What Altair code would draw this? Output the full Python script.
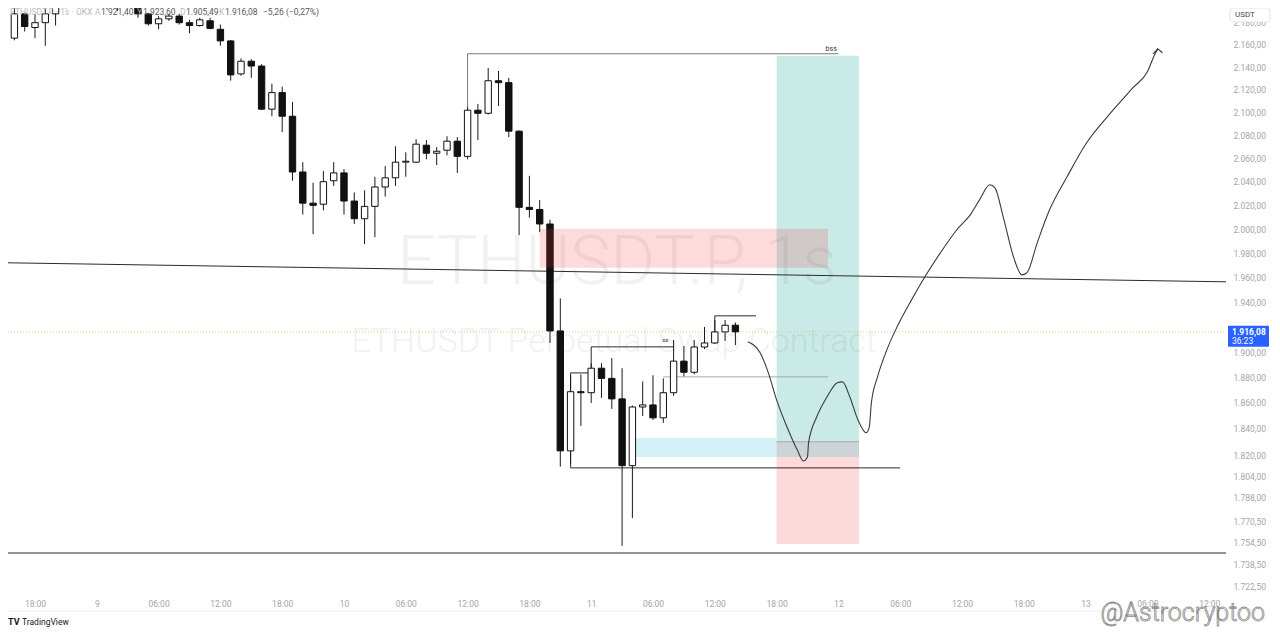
import altair as alt
import pandas as pd

# ---------------- data ----------------
# hourly candles; hour counted from day 8, 00:00
hour = list(range(15, 87))
open_ = [2142, 2166, 2188, 2175.6, 2180, 2188, 2195, 2202, 2208, 2204, 2210, 2200, 2205, 2203,
         2188, 2179, 2183.5, 2186, 2180, 2177.4, 2181.7, 2174, 2163.5, 2133.9, 2145.2, 2140.9,
         2102.7, 2117.3, 2096.5, 2048.3, 2021.8, 2020.9, 2040.8, 2047.5, 2023.6, 2008.7, 2019.1,
         2035.5, 2043.3, 2056.7, 2056.7, 2071.3, 2064.4, 2067, 2074.8, 2061.7, 2101.8, 2099.1,
         2127.8, 2126.1, 2083.5, 2018.3, 2016.5, 2004.3, 1916.8, 1823.2, 1868.8, 1868, 1887.2,
         1879.2, 1863.2, 1812, 1856.9, 1858.5, 1848.5, 1868, 1892.8, 1884, 1904, 1907.2, 1916,
         1921.40]
high = [2171, 2195, 2189, 2188, 2193, 2200, 2207, 2212, 2215, 2213, 2218, 2209, 2212, 2207,
        2189, 2186, 2188, 2188, 2182.6, 2184.4, 2184.4, 2178.3, 2164.3, 2147.8, 2147, 2142.6,
        2125.2, 2122.6, 2109.1, 2056.7, 2039.1, 2049.2, 2056.7, 2050.8, 2030.9, 2032.7, 2044.2,
        2053.3, 2070.4, 2065.2, 2076.5, 2075.7, 2069.6, 2079.1, 2078.3, 2104.5, 2107.3, 2139.1,
        2136.5, 2130.4, 2084, 2045, 2024.5, 2007.8, 1943, 1881.6, 1882.4, 1891.2, 1891.2,
        1895.2, 1887.2, 1858, 1876.8, 1881.6, 1879.2, 1909.6, 1904.8, 1909.6, 1920, 1925.6,
        1925.6, 1923.60]
low = [2137, 2164, 2172, 2166, 2159, 2177.4, 2193, 2196, 2199, 2197, 2192, 2190.5, 2194, 2184.5,
       2177.4, 2174, 2181.7, 2178.3, 2170.4, 2176.5, 2174, 2159.1, 2127.9, 2132.2, 2130.4, 2102,
       2096.5, 2082.6, 2040.8, 2012.2, 1995.8, 2015.7, 2036.4, 2012.2, 2004.3, 1987.5, 1993.3,
       2027.3, 2036.4, 2044.2, 2055.8, 2059.2, 2054.2, 2062.6, 2047.5, 2059.2, 2075.7, 2098,
       2105.5, 2078.3, 1995, 2009.6, 1997.5, 1907.2, 1811.3, 1813.5, 1842.3, 1860, 1864,
       1855.4, 1752.3, 1772.8, 1850, 1846.9, 1844.6, 1865.6, 1880.8, 1882.4, 1902.4, 1906.4,
       1908.8, 1905.49]
close = [2167, 2188, 2176.5, 2180, 2188, 2195, 2202.5, 2208, 2204, 2210, 2200, 2205, 2206, 2188,
         2179, 2183.5, 2186, 2180, 2177.4, 2182.6, 2174.8, 2163.5, 2133, 2145.2, 2140.9, 2102.7,
         2117.3, 2096.5, 2048.3, 2021.8, 2020, 2040, 2047.5, 2023.6, 2008.7, 2019.1, 2035.5,
         2043.3, 2056.7, 2057.5, 2072.2, 2064.4, 2066.1, 2074.8, 2061.7, 2101.8, 2099.1, 2127.8,
         2126.1, 2083.5, 2018.3, 2016.5, 2004.3, 1916.8, 1823.2, 1868.8, 1868, 1887.2, 1879.2,
         1863.2, 1812, 1856.9, 1858.5, 1848.5, 1868, 1892.8, 1884, 1904, 1907.2, 1916, 1921.34,
         1916.08]

# hand-drawn projection path
path_h = [87.2, 88.4, 89.2, 90.0, 91.0, 92.0, 92.6, 93.0, 93.1, 93.9, 94.9, 95.9, 96.4, 97.1,
          97.9, 98.7, 99.0, 99.2, 99.8, 100.7, 101.7, 103.1, 104.4, 105.9, 107.5, 108.8, 109.7,
          110.7, 111.2, 112.0, 113.0, 113.8, 114.3, 115.3, 116.5, 118.2, 120.1, 122.1, 124.6,
          126.0, 126.7, 127.0]
path_p = [1908.1, 1899.4, 1883.5, 1862.4, 1841.6, 1824.0, 1815.6, 1818.6, 1829.3, 1849.3,
          1864.8, 1875.7, 1876.5, 1864.8, 1846.9, 1837.0, 1841.6, 1860.1, 1880.4, 1901.7,
          1920.1, 1941.8, 1960.6, 1980.3, 1999.5, 2012.0, 2024.6, 2037.4, 2034.8, 2010.3,
          1977.0, 1962.2, 1963.9, 1988.6, 2016.2, 2044.2, 2073.4, 2096.0, 2121.6, 2135.8,
          2151.0, 2156.4]

# drawn line segments (hour1, hour2, price1, price2)
dark_h1 = [15.38, 15.38, 72, 72, 70, 70, 70, 84, 84]
dark_h2 = [133.63, 133.63, 80, 72, 72, 70, 102, 88, 84]
dark_p1 = [1972.1, 1747.1, 1904.1, 1887.5, 1883.5, 1810.3, 1810.3, 1928.9, 1916.0]
dark_p2 = [1956.5, 1747.1, 1904.1, 1904.1, 1883.5, 1883.5, 1810.3, 1928.9, 1928.9]
arrow_h = [126.55, 127.0, 127.45]
arrow_p = [2151.9, 2156.4, 2152.8]
bss_h1 = [60, 60]
bss_h2 = [96, 60]
bss_p1 = [2151.9, 2101.3]
bss_p2 = [2151.9, 2151.9]
light_h1 = [79, 90]
light_h2 = [95, 98]
light_p = [1880.4, 1830.1]

# zones
zone_name = ["target", "stop", "fvg", "overlap"]
zone_h1 = [90, 90, 76.3, 90]
zone_h2 = [98, 98, 90, 98]
zone_lo = [1818.6, 1753.7, 1818.6, 1818.6]
zone_hi = [2150.1, 1818.6, 1833.1, 1830.1]
supply_h = [67, 95]
supply_p = [1968.0, 2000.3]

last_price = [1916.08]

price_ticks = [1722.5, 1738.5, 1754.5, 1770.5, 1788, 1804, 1820, 1840, 1860, 1880, 1900,
               1940, 1960, 1980, 2000, 2020, 2040, 2060, 2080, 2100, 2120, 2140, 2160, 2180]
time_ticks = list(range(18, 133, 6))

# ---------------- chart ----------------
W, H = 1218, 584
FONT = "Roboto"
x_scale = alt.Scale(domain=[15.38, 133.63], nice=False, zero=False)
y_scale = alt.Scale(type="log", domain=[1718.9, 2193.4], nice=False)
x_axis = alt.Axis(values=time_ticks, grid=False, domain=False, ticks=False, title=None,
                  labelExpr="datum.value % 24 == 0 ? '' + (8 + datum.value / 24) : "
                            "(datum.value % 24 == 6 ? '06:00' : (datum.value % 24) + ':00')",
                  labelColor="#a3a6ad", labelFontSize=8.5, labelFont=FONT, labelPadding=7,
                  labelFlush=False, labelOverlap=False)
y_axis = alt.Axis(orient="right", values=price_ticks, grid=False, domain=False, ticks=False,
                  title=None,
                  labelExpr="replace(replace(replace(format(datum.value, ',.2f'), ',', '#'), '.', ','), '#', '.')",
                  labelColor="#a3a6ad", labelFontSize=8.5, labelFont=FONT, labelPadding=7,
                  labelFlush=False, labelOverlap=False)


def X(f):
    return alt.X(f, type="quantitative", scale=x_scale, axis=x_axis)


def Y(f):
    return alt.Y(f, type="quantitative", scale=y_scale, axis=y_axis)


dummy = pd.DataFrame({"d": [0]})


def txt(text, x, y, size, color, align="left", baseline="middle", weight="normal", **kw):
    return alt.Chart(dummy).mark_text(text=text, align=align, baseline=baseline, fontSize=size,
                                      color=color, font=FONT, fontWeight=weight, **kw).encode(
        x=alt.value(x), y=alt.value(y))


candles = pd.DataFrame({"h": hour, "o": open_, "hi": high, "lo": low, "c": close})
path = pd.DataFrame({"h": path_h, "p": path_p, "i": list(range(len(path_h)))})
arrow = pd.DataFrame({"h": arrow_h, "p": arrow_p, "i": [0, 1, 2]})
dark = pd.DataFrame({"h1": dark_h1, "h2": dark_h2, "p1": dark_p1, "p2": dark_p2})
bss = pd.DataFrame({"h1": bss_h1, "h2": bss_h2, "p1": bss_p1, "p2": bss_p2})
light = pd.DataFrame({"h1": light_h1, "h2": light_h2, "p": light_p})
zones = pd.DataFrame({"name": zone_name, "h1": zone_h1, "h2": zone_h2, "lo": zone_lo, "hi": zone_hi})
supply = pd.DataFrame({"h1": [supply_h[0]], "h2": [supply_h[1]], "lo": [supply_p[0]], "hi": [supply_p[1]]})
lastdf = pd.DataFrame({"p": last_price, "h": [hour[-1]]})

layers = []

# zones
layers.append(alt.Chart(zones).mark_rect(clip=True).encode(
    x=X("h1"), x2="h2", y=Y("lo"), y2="hi",
    fill=alt.Fill("name:N", legend=None,
                  scale=alt.Scale(domain=["target", "stop", "fvg", "overlap"],
                                  range=["#c9eae6", "#fcd9da", "#d2f0f5", "#cdd4d6"]))))

# watermark (translucent, over the zones)
layers.append(txt("ETHUSDT.P, 1s", 609, 256, 68, "#000000", align="center", weight=300, opacity=0.05))
layers.append(txt("ETHUSDT Perpetual Swap Contract", 606, 334, 34, "#000000", align="center",
                  weight=300, opacity=0.05))

# last price dotted line
layers.append(alt.Chart(lastdf).mark_rule(color="#eeb36f", strokeDash=[1, 2], opacity=0.8).encode(
    x=alt.value(0), x2=alt.value(W), y=Y("p")))

# lines
layers.append(alt.Chart(light).mark_rule(color="#a8a8a8", strokeWidth=1, clip=True).encode(
    x=X("h1"), x2="h2", y=Y("p")))
layers.append(alt.Chart(bss).mark_rule(color="#7a7a7a", strokeWidth=1, clip=True).encode(
    x=X("h1"), x2="h2", y=Y("p1"), y2="p2"))
layers.append(alt.Chart(dark).mark_rule(color="#2b2b2b", strokeWidth=1, clip=True).encode(
    x=X("h1"), x2="h2", y=Y("p1"), y2="p2"))

# candles
layers.append(alt.Chart(candles).mark_rule(color="#1a1a1a", strokeWidth=1, clip=True).encode(
    x=X("h"), y=Y("lo"), y2="hi"))
layers.append(alt.Chart(candles).transform_calculate(
    x1="datum.h - 0.31", x2="datum.h + 0.31"
).mark_rect(stroke="#111111", strokeWidth=1, clip=True).encode(
    x=X("x1"), x2="x2", y=Y("o"), y2="c",
    fill=alt.condition("datum.c >= datum.o", alt.value("white"), alt.value("#111111"))))

# translucent supply zone on top of candles
layers.append(alt.Chart(supply).mark_rect(fill="#f23645", opacity=0.18, clip=True).encode(
    x=X("h1"), x2="h2", y=Y("lo"), y2="hi"))

# projection path with arrow head
layers.append(alt.Chart(path).mark_line(color="#3a3a3a", strokeWidth=1.1, interpolate="monotone",
                                        clip=True).encode(x=X("h"), y=Y("p"), order="i"))
layers.append(alt.Chart(arrow).mark_line(color="#3a3a3a", strokeWidth=1.1, clip=True).encode(
    x=X("h"), y=Y("p"), order="i"))

# small labels on drawings
layers.append(alt.Chart(pd.DataFrame({"h": [95.3], "p": [2156.4]})).mark_text(
    text="bss", fontSize=7, color="#333333", font=FONT).encode(x=X("h"), y=Y("p")))
layers.append(alt.Chart(pd.DataFrame({"h": [79.2], "p": [1909.8]})).mark_text(
    text="ss", fontSize=6, color="#333333", font=FONT).encode(x=X("h"), y=Y("p")))

# header legend
layers.append(txt("ETHUSDT.P · 1s · OKX", 2, 4, 8.5, "#b9bcc3"))
for lab, val, xl in [("A", "1.921,40", 87), ("Y", "1.923,60", 129), ("D", "1.905,49", 172),
                     ("K", "1.916,08", 211)]:
    layers.append(txt(lab, xl, 4, 8.5, "#b9bcc3"))
    layers.append(txt(val, xl + 6, 4, 8.5, "#555a63"))
layers.append(txt("−5,26 (−0,27%)", 255, 4, 8.5, "#555a63"))

# price scale: currency box and last price label
layers.append(alt.Chart(dummy).mark_rect(fill="white", stroke="#e0e3eb", cornerRadius=3).encode(
    x=alt.value(1222), x2=alt.value(1262), y=alt.value(0), y2=alt.value(14)))
layers.append(txt("USDT", 1227, 7, 8, "#444a55"))
layers.append(alt.Chart(lastdf).mark_rect(fill="#2962ff", yOffset=-6, y2Offset=15, cornerRadius=1).encode(
    x=alt.value(1220), x2=alt.value(1261), y=Y("p"), y2="p"))
layers.append(alt.Chart(lastdf).mark_text(text="1.916,08", align="left", fontSize=8.5, color="white",
                                          font=FONT, fontWeight="bold").encode(
    x=alt.value(1224), y=Y("p")))
layers.append(alt.Chart(lastdf).mark_text(text="36:23", align="left", fontSize=8.5, color="white",
                                          font=FONT, dy=9).encode(
    x=alt.value(1224), y=Y("p")))

# bottom time-scale border and footer
layers.append(alt.Chart(dummy).mark_rule(color="#eceef2").encode(
    x=alt.value(0), x2=alt.value(W), y=alt.value(603)))
layers.append(txt("TV", 0, 614, 9, "#131722", weight="bold"))
layers.append(txt("TradingView", 14, 614, 8.5, "#131722"))
layers.append(txt("@Astrocryptoo", 1257, 613, 25, "white", align="right", baseline="alphabetic",
                  weight=300, stroke="#8a8a8a", strokeWidth=0.8))

chart = alt.layer(*layers).properties(
    width=W, height=H,
    autosize=alt.AutoSizeParams(type="none"),
    padding={"left": 0, "top": 0, "right": 46, "bottom": 36},
    background="white",
).configure_view(stroke=None)

chart.save("out.html", embed_options={"renderer": "svg", "actions": False})
